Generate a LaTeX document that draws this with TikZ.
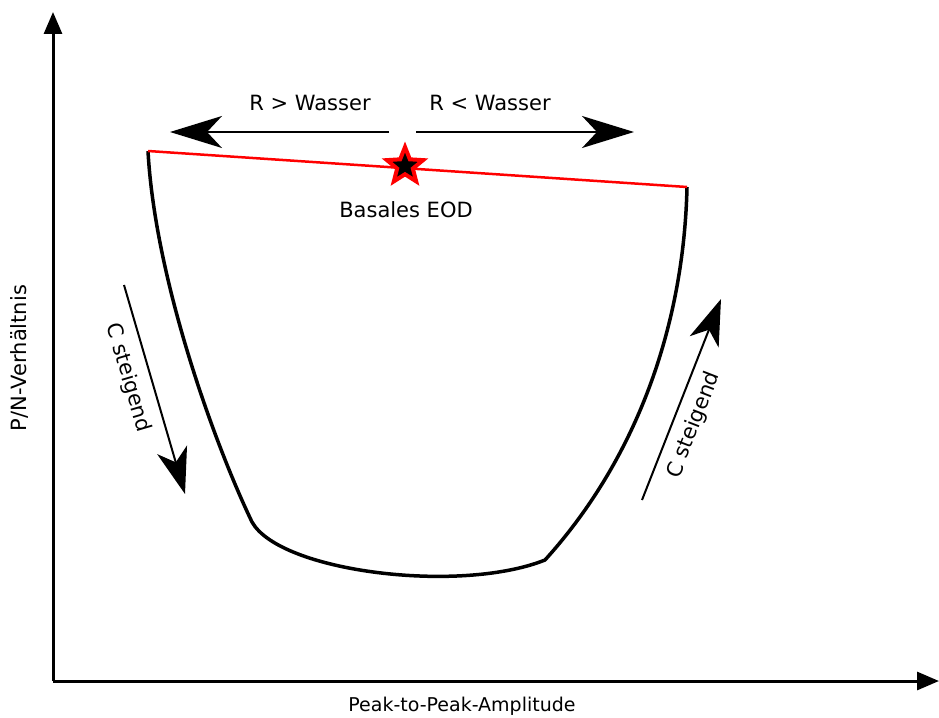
\documentclass[tikz,border=0pt]{standalone}
\usepackage{fontspec}
\setmainfont{DejaVu Sans}
\usetikzlibrary{arrows.meta,shapes.geometric}
\begin{document}
\begin{tikzpicture}[x=1pt,y=-1pt,
  lbl/.style={font=\fontsize{21}{24}\selectfont, inner sep=0pt},
  axis/.style={line width=3pt, -{Triangle[length=22pt,width=18pt]}},
  bigarrow/.style={line width=2.2pt, -{Stealth[length=52pt,width=32pt,inset=15pt]}},
  slantarrow/.style={line width=2pt, -{Stealth[length=46pt,width=31pt,inset=13pt]}},
  curve/.style={line width=3.5pt, line join=round},
  baseline/.style={red, line width=2.5pt}
]
\useasboundingbox (0,0) rectangle (939,717);
% axes
\coordinate (origin) at (53,681);
\coordinate (ytip) at (53,12);
\coordinate (xtip) at (939,681);
\draw[axis] (origin) -- (ytip);
\draw[axis] (origin) -- (xtip);
\node[lbl, rotate=90] (ylabel) at (19,358) {P/N-Verhältnis};
\node[lbl, font=\fontsize{19}{22}\selectfont] (xlabel) at (462,706) {Peak-to-Peak-Amplitude};
% curve
\coordinate (tl) at (148,151);
\coordinate (tr) at (687,187);
\coordinate (bl) at (252,522);
\coordinate (br) at (545,560);
\draw[curve] (tl) .. controls (155,280) and (215,445) .. (bl)
  .. controls (280,572) and (460,594) .. (br)
  .. controls (640,455) and (684,320) .. (tr);
\draw[baseline] (tl) -- (tr);
% star
\node[star, star points=5, star point ratio=2.3, minimum size=38pt, inner sep=0pt,
  fill=black, draw=red, line width=4pt] (star) at (405,166) {};
\node[lbl] (eod) at (406,210) {Basales EOD};
% top arrows
\coordinate (la) at (389,132);
\coordinate (lt) at (170,132);
\coordinate (ra) at (416,132);
\coordinate (rt) at (634,132);
\draw[bigarrow] (la) -- (lt);
\draw[bigarrow] (ra) -- (rt);
\node[lbl] (rgt) at (310,103) {R > Wasser};
\node[lbl] (rlt) at (490,103) {R < Wasser};
% slanted arrows
\coordinate (s1a) at (124,285);
\coordinate (s1b) at (185,494);
\coordinate (s2a) at (642,500);
\coordinate (s2b) at (721,299);
\draw[slantarrow] (s1a) -- (s1b);
\draw[slantarrow] (s2a) -- (s2b);
\node[lbl, rotate=-73.6] (cs1) at (128,378) {C steigend};
\node[lbl, rotate=68.9] (cs2) at (694,425) {C steigend};
\end{tikzpicture}
\end{document}
